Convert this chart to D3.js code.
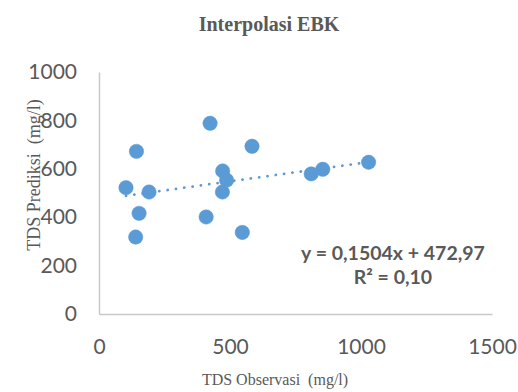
<!DOCTYPE html>
<html><head><meta charset="utf-8">
<script src="https://cdn.jsdelivr.net/npm/d3@7"></script>
<style>
html,body{margin:0;padding:0;background:#fff;}
svg{display:block;}
</style></head>
<body>
<svg id="chart" width="518" height="392"></svg>
<script>
const title = "Interpolasi EBK";
const xTitle = "TDS Observasi  (mg/l)";
const yTitle = "TDS Prediksi  (mg/l)";
const xTicks = [0, 500, 1000, 1500];
const yTicks = [0, 200, 400, 600, 800, 1000];
const observed = [103, 143, 191, 153, 140, 424, 584, 472, 487, 471, 409, 547, 810, 854, 1029];
const predicted = [522, 672, 504, 416, 318, 788, 693, 591, 553, 504, 401, 337, 579, 598, 627];
const slope = 0.1504, intercept = 472.97;
const eqLines = ["y = 0,1504x + 472,97", "R² = 0,10"];

const svg = d3.select("#chart");
const grey = "#595959";
const blue = "#5B9BD5";
const x = d3.scaleLinear().domain([0, 1500]).range([99, 492]);
const y = d3.scaleLinear().domain([0, 1000]).range([314, 72]);

// axes
const xa = svg.append("g").attr("transform", "translate(0,314)")
  .call(d3.axisBottom(x).tickValues(xTicks).tickSize(0).tickPadding(25).tickFormat(d3.format("d")));
const ya = svg.append("g").attr("transform", "translate(99,0)")
  .call(d3.axisLeft(y).tickValues(yTicks).tickSize(0).tickPadding(22).tickFormat(d3.format("d")));
[xa, ya].forEach(g => {
  g.select(".domain").attr("stroke", "#c8c8c8").attr("stroke-width", 1.5);
  g.selectAll("text").attr("fill", grey).style("font-family", "Lato, 'Open Sans', sans-serif").style("font-size", "21px");
});
xa.selectAll("text").attr("dy", "0.71em");

// trendline
const xs = d3.extent(observed);
svg.append("line")
  .attr("x1", x(xs[0])).attr("y1", y(slope * xs[0] + intercept))
  .attr("x2", x(xs[1])).attr("y2", y(slope * xs[1] + intercept))
  .attr("stroke", blue).attr("stroke-width", 2.75)
  .attr("stroke-linecap", "round").attr("stroke-dasharray", "0.1 8.3");

// points
svg.append("g").selectAll("circle").data(observed).join("circle")
  .attr("cx", (d) => x(d)).attr("cy", (d, i) => y(predicted[i]))
  .attr("r", 7.2).attr("fill", blue).attr("stroke", blue).attr("stroke-width", 0.5);

// equation
svg.append("g").selectAll("text").data(eqLines).join("text")
  .attr("x", 393).attr("y", (d, i) => 260 + i * 24)
  .attr("text-anchor", "middle").attr("fill", grey)
  .style("font-family", "Lato, 'Open Sans', sans-serif").style("font-weight", "bold").style("font-size", "19.5px")
  .text(d => d);

// titles
svg.append("text").attr("x", 269).attr("y", 31).attr("text-anchor", "middle")
  .attr("fill", grey).style("font-family", "'Liberation Serif', 'Times New Roman', serif")
  .style("font-weight", "bold").style("font-size", "20px").text(title);
svg.append("text").attr("x", 275).attr("y", 385).attr("text-anchor", "middle")
  .attr("fill", grey).style("font-family", "'Liberation Serif', 'Times New Roman', serif")
  .style("font-size", "16px").style("white-space", "pre").text(xTitle);
svg.append("text").attr("transform", "translate(40,175) rotate(-90)").attr("text-anchor", "middle")
  .attr("fill", grey).style("font-family", "'Liberation Serif', 'Times New Roman', serif")
  .style("font-size", "18px").style("white-space", "pre").text(yTitle);
</script>
</body></html>
